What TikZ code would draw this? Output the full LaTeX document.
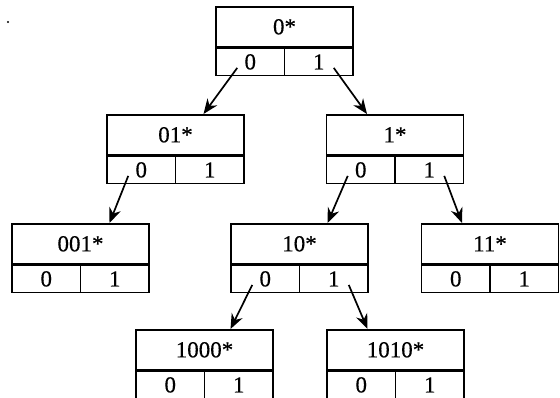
\documentclass[tikz,border=0pt]{standalone}
\usepackage{fontspec}
\setmainfont{Liberation Serif}
\newfontfamily\labelfont{Liberation Serif}[FakeBold=0.3]
\usetikzlibrary{arrows.meta,calc}
\tikzset{
  keybox/.style={draw, line width=1.6pt, minimum width=137pt, minimum height=40pt, inner sep=0pt, anchor=north, font=\labelfont\fontsize{23}{26}\selectfont},
  cellL/.style={draw, line width=1.6pt, minimum width=68.5pt, minimum height=27pt, inner sep=0pt, anchor=north west, font=\labelfont\fontsize{23}{26}\selectfont},
  cellR/.style={draw, line width=1.6pt, minimum width=68.5pt, minimum height=27pt, inner sep=0pt, anchor=north east, font=\labelfont\fontsize{23}{26}\selectfont},
  link/.style={line width=1.7pt, -{Stealth[length=15pt,width=12pt]}}
}
\newcommand{\bucketnode}[4]{%
  \node[keybox] (#1) at (#2,#3) {#4};
  \node[cellL] (#1z) at (#1.south west) {0};
  \node[cellR] (#1o) at (#1.south east) {1};
}
\begin{document}
\begin{tikzpicture}[x=1pt,y=-1pt]
\useasboundingbox (0,0) rectangle (560,398);
\fill (8,22) circle (1.2pt);
\bucketnode{r}{284.5}{6}{0*}
\bucketnode{a}{175.5}{114}{01*}
\bucketnode{b}{395}{114}{1*}
\bucketnode{c}{80.5}{223}{001*}
\bucketnode{d}{299.5}{223}{10*}
\bucketnode{e}{490}{223}{11*}
\bucketnode{f}{204.5}{329}{1000*}
\bucketnode{g}{395.5}{329}{1010*}
\draw[link] ($(rz.center)+(-13,6)$) -- ($(a.north)+(28,0)$);
\draw[link] ($(ro.center)+(15,6)$) -- ($(b.north)+(-28,0)$);
\draw[link] ($(az.center)+(-13,6)$) -- ($(c.north)+(29,0)$);
\draw[link] ($(bz.center)+(-13,6)$) -- ($(d.north)+(28,0)$);
\draw[link] ($(bo.center)+(15,6)$) -- ($(e.north)+(-28,0)$);
\draw[link] ($(dz.center)+(-13,6)$) -- ($(f.north)+(26,0)$);
\draw[link] ($(do.center)+(15,6)$) -- ($(g.north)+(-28,0)$);
\end{tikzpicture}
\end{document}
